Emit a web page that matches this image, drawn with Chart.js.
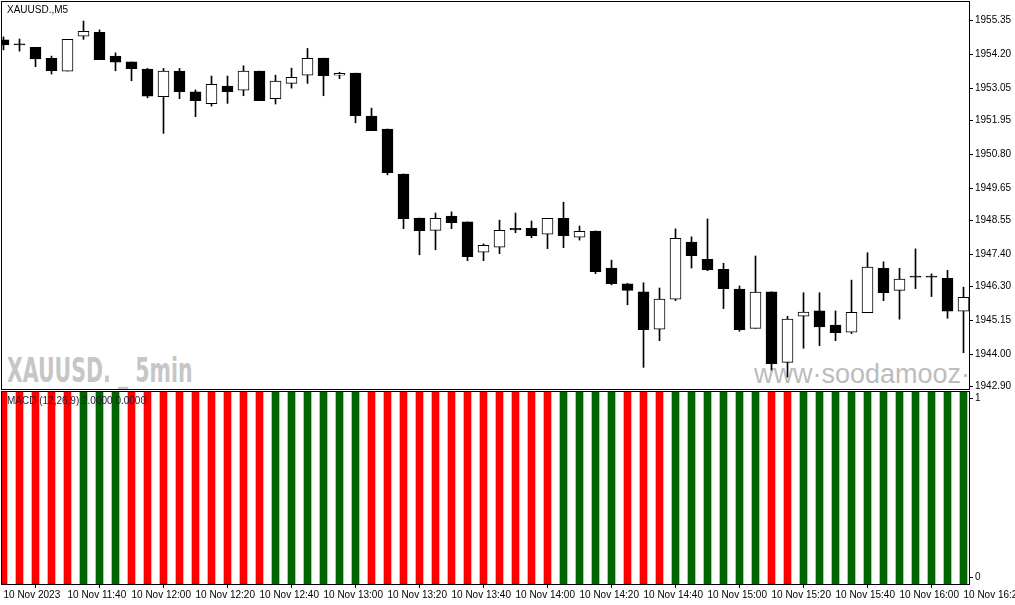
<!DOCTYPE html>
<html lang="es">

<head>
  <meta charset="UTF-8" />
  <title>XAUUSD M5</title>
  <script src="https://cdn.jsdelivr.net/npm/chart.js@4.4.1/dist/chart.umd.min.js"></script>
  <style>
    body { margin: 0; background: #fff; }
    #lienzo { position: relative; width: 1015px; height: 605px; overflow: hidden; background: #fff; }
    canvas { position: absolute; left: 0; z-index: 1; }
    .txt { position: absolute; white-space: nowrap; font-family: "Liberation Sans", Arial, sans-serif; }
  </style>
</head>

<body>
<div id="lienzo">
  <!-- marcas de agua (detrás de las velas) -->
  <div class="txt" style="left:7px; top:353px; font-family:'DejaVu Sans Condensed','DejaVu Sans',sans-serif; font-weight:bold; font-size:34px; line-height:34px; color:#c6c6c6; transform:scaleX(0.67); transform-origin:0 0; z-index:0;">XAUUSD. _ 5min</div>
  <div style="position:absolute; left:750px; top:355px; width:218px; height:34px; overflow:hidden; z-index:0;">
    <div class="txt" style="left:4px; top:6px; font-size:27px; line-height:27px; color:#bcbcbc;">www·soodamooz·com</div>
  </div>

  <canvas id="precios" width="1015" height="390" style="top:0;"></canvas>
  <canvas id="macd" width="1015" height="214" style="top:391px;"></canvas>

  <div class="txt" style="left:7px; top:5px; font-size:10px; line-height:10px; color:#000; z-index:2;">XAUUSD.,M5</div>
  <div class="txt" style="left:7px; top:396px; font-size:10px; line-height:10px; color:#1e1e2e; z-index:2;">MACD (12,26,9) 2.0000 0.0000</div>
</div>

<script>
  // velas de 5 minutos, 11:20 a 16:20
  const aperturas = [1954.69, 1954.52, 1954.44, 1954.06, 1953.63, 1954.82, 1954.95, 1954.14, 1953.94, 1953.70,
    1952.76, 1953.63, 1952.92, 1952.52, 1953.12, 1952.98, 1953.63, 1952.69, 1953.21, 1953.49,
    1954.07, 1953.49, 1953.56, 1952.10, 1951.66, 1950.13, 1948.63, 1948.21, 1948.70, 1948.50,
    1947.47, 1947.64, 1948.28, 1948.28, 1948.08, 1948.62, 1947.98, 1948.19, 1946.93, 1946.39,
    1946.12, 1944.85, 1945.87, 1947.81, 1947.23, 1946.89, 1946.21, 1944.88, 1946.12, 1943.72,
    1945.29, 1945.47, 1944.99, 1944.75, 1945.41, 1946.92, 1946.17, 1946.62, 1946.62, 1946.58, 1945.46];
  const maximos = [1954.79, 1954.72, 1954.44, 1954.14, 1954.71, 1955.33, 1955.03, 1954.25, 1953.94, 1953.72,
    1953.72, 1953.72, 1952.99, 1953.46, 1953.46, 1953.81, 1953.63, 1953.49, 1953.73, 1954.40,
    1954.07, 1953.59, 1953.56, 1952.37, 1951.66, 1950.13, 1948.63, 1948.80, 1948.84, 1948.50,
    1947.75, 1948.56, 1948.80, 1948.53, 1948.62, 1949.17, 1948.36, 1948.19, 1947.20, 1946.41,
    1946.43, 1946.25, 1948.26, 1947.99, 1948.60, 1947.09, 1946.32, 1947.34, 1946.12, 1945.29,
    1946.09, 1946.09, 1945.47, 1946.52, 1947.45, 1947.14, 1946.92, 1947.58, 1946.73, 1946.85, 1946.28];
  const minimos = [1954.35, 1954.31, 1953.78, 1953.53, 1953.63, 1954.71, 1954.02, 1953.64, 1953.30, 1952.72,
    1951.51, 1952.69, 1952.08, 1952.44, 1952.53, 1952.79, 1952.62, 1952.51, 1953.05, 1953.21,
    1952.79, 1953.37, 1951.87, 1951.60, 1950.10, 1948.27, 1947.38, 1947.55, 1948.27, 1947.18,
    1947.18, 1947.42, 1948.13, 1947.96, 1947.59, 1947.62, 1947.88, 1946.74, 1946.36, 1945.68,
    1943.55, 1944.46, 1945.82, 1946.93, 1946.84, 1945.55, 1944.78, 1944.88, 1943.46, 1943.22,
    1944.20, 1944.29, 1944.46, 1944.70, 1945.41, 1945.82, 1945.19, 1946.23, 1945.96, 1945.22, 1944.05];
  const cierres = [1954.52, 1954.52, 1954.04, 1953.64, 1954.71, 1954.98, 1954.02, 1953.93, 1953.71, 1952.78,
    1953.63, 1952.93, 1952.62, 1953.18, 1952.93, 1953.63, 1952.62, 1953.29, 1953.42, 1954.06,
    1953.47, 1953.55, 1952.11, 1951.60, 1950.17, 1948.61, 1948.20, 1948.62, 1948.47, 1947.32,
    1947.70, 1948.21, 1948.23, 1948.03, 1948.62, 1948.03, 1948.18, 1946.81, 1946.40, 1946.17,
    1944.83, 1945.87, 1947.94, 1947.35, 1946.87, 1946.23, 1944.83, 1946.11, 1943.68, 1945.19,
    1945.43, 1944.93, 1944.73, 1945.42, 1946.96, 1946.09, 1946.55, 1946.62, 1946.62, 1945.46, 1945.93];

  // histograma MACD: 1 = barra presente
  const macdAlcista = [0, 0, 0, 0, 0, 1, 1, 1, 0, 0,
    0, 0, 0, 0, 0, 0, 0, 1, 1, 1,
    1, 1, 1, 0, 0, 0, 0, 0, 0, 0,
    0, 0, 0, 0, 0, 1, 1, 1, 1, 0,
    0, 0, 1, 1, 1, 1, 1, 1, 0, 0,
    1, 1, 1, 1, 1, 1, 1, 1, 1, 1, 1];
  const macdBajista = [1, 1, 1, 1, 1, 0, 0, 0, 1, 1,
    1, 1, 1, 1, 1, 1, 1, 0, 0, 0,
    0, 0, 0, 1, 1, 1, 1, 1, 1, 1,
    1, 1, 1, 1, 1, 0, 0, 0, 0, 1,
    1, 1, 0, 0, 0, 0, 0, 0, 1, 1,
    0, 0, 0, 0, 0, 0, 0, 0, 0, 0, 0];

  const preciosEje = [1955.35, 1954.20, 1953.05, 1951.95, 1950.80, 1949.65, 1948.55, 1947.40, 1946.30, 1945.15, 1944.00, 1942.90];
  const macdEje = ['0', '1'];
  const horasBarra = [0, 4, 8, 12, 16, 20, 24, 28, 32, 36, 40, 44, 48, 52, 56, 60];
  const horasTexto = ['10 Nov 2023', '10 Nov 11:40', '10 Nov 12:00', '10 Nov 12:20', '10 Nov 12:40', '10 Nov 13:00',
    '10 Nov 13:20', '10 Nov 13:40', '10 Nov 14:00', '10 Nov 14:20', '10 Nov 14:40', '10 Nov 15:00',
    '10 Nov 15:20', '10 Nov 15:40', '10 Nov 16:00', '10 Nov 16:20'];

  const indices = aperturas.map((_, i) => i);
  const xMin = -0.09375, xMax = -0.09375 + 967 / 16;
  const yMax = 1955.35 + 18.5 / 29.398, yMin = yMax - 387 / 29.398;
  const fuente = { family: 'Liberation Sans', size: 10 };

  // marco negro alrededor del área de dibujo
  const marco = {
    id: 'marco',
    afterDraw(chart) {
      const { ctx, chartArea: a } = chart;
      ctx.save();
      ctx.strokeStyle = '#000';
      ctx.lineWidth = 1;
      ctx.strokeRect(a.left - 0.5, a.top - 0.5, a.right - a.left + 1, a.bottom - a.top + 1);
      ctx.restore();
    }
  };

  // eje de la derecha con ancho fijo y sin relleno extra
  const ajustarEje = s => { s.width = 46; s.paddingTop = 0; s.paddingBottom = 0; };

  new Chart(document.getElementById('precios'), {
    type: 'bar',
    data: {
      datasets: [
        {
          label: 'Cuerpo',
          data: indices.map(i => ({ x: i, y: [aperturas[i], cierres[i]] })),
          backgroundColor: indices.map(i => cierres[i] > aperturas[i] ? '#ffffff' : '#000000'),
          borderColor: '#000',
          borderWidth: 1,
          borderSkipped: false,
          barThickness: 11,
          minBarLength: 1,
          grouped: false
        },
        {
          label: 'Mecha',
          data: indices.map(i => ({ x: i, y: [minimos[i], maximos[i]] })),
          backgroundColor: '#000',
          borderWidth: 0,
          barThickness: 1,
          grouped: false
        }
      ]
    },
    options: {
      responsive: false,
      animation: false,
      devicePixelRatio: 1,
      layout: { padding: { left: 2, top: 2, right: 0, bottom: 1 } },
      plugins: { legend: { display: false }, tooltip: { enabled: false } },
      scales: {
        x: { type: 'linear', display: false, offset: false, min: xMin, max: xMax },
        y: {
          position: 'right', min: yMin, max: yMax,
          afterBuildTicks: s => { s.ticks = preciosEje.map(v => ({ value: v })); },
          afterFit: ajustarEje,
          ticks: { callback: v => v.toFixed(2), color: '#000', font: fuente, padding: 2 },
          grid: { drawOnChartArea: false, tickLength: 4, color: '#000' },
          border: { display: false }
        }
      }
    },
    plugins: [marco]
  });

  new Chart(document.getElementById('macd'), {
    type: 'bar',
    data: {
      datasets: [
        { label: 'Alcista', data: indices.map(i => ({ x: i, y: macdAlcista[i] })), backgroundColor: '#006400', barThickness: 7, grouped: false },
        { label: 'Bajista', data: indices.map(i => ({ x: i, y: macdBajista[i] })), backgroundColor: '#ff0000', barThickness: 7, grouped: false }
      ]
    },
    options: {
      responsive: false,
      animation: false,
      devicePixelRatio: 1,
      layout: { padding: { left: 2, top: 1, right: 0, bottom: 0 } },
      plugins: { legend: { display: false }, tooltip: { enabled: false } },
      scales: {
        x: {
          type: 'linear', offset: false, min: xMin, max: xMax,
          afterBuildTicks: s => { s.ticks = horasBarra.map(v => ({ value: v })); },
          afterFit: s => { s.height = 21; s.paddingLeft = 0; s.paddingRight = 0; },
          ticks: { autoSkip: false, maxRotation: 0, align: 'start', padding: 1, color: '#000', font: fuente, callback: (v, i) => horasTexto[i] },
          grid: { drawOnChartArea: false, tickLength: 4, color: '#000' },
          border: { display: false }
        },
        y: {
          position: 'right', min: 0, max: 1,
          afterBuildTicks: s => { s.ticks = [{ value: 0.035 }, { value: 0.965 }]; },
          afterFit: ajustarEje,
          ticks: { callback: (v, i) => macdEje[i], color: '#000', font: fuente, padding: 2 },
          grid: { drawOnChartArea: false, tickLength: 4, color: '#000' },
          border: { display: false }
        }
      }
    },
    plugins: [marco]
  });
</script>

</body>

</html>
